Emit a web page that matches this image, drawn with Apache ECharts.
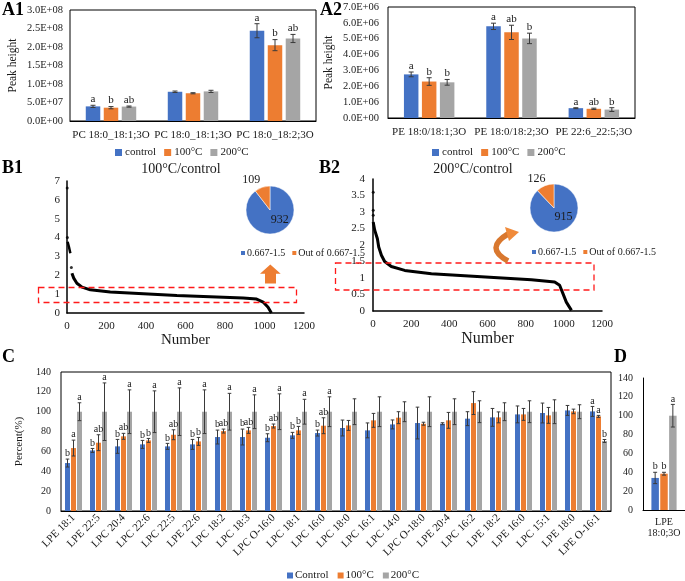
<!DOCTYPE html>
<html><head><meta charset="utf-8">
<script src="https://cdn.jsdelivr.net/npm/echarts@6/dist/echarts.min.js"></script>
<style>html,body{margin:0;padding:0;background:#fff}#c{width:685px;height:581px}</style>
</head><body><div id="c"></div>
<script>
// ---------- DATA ----------
const A1_CATEGORIES = ['PC 18:0_18:1;3O', 'PC 18:0_18:1;3O', 'PC 18:0_18:2;3O'];
const A1_CONTROL = [3.95e7, 7.9e7, 2.44e8];
const A1_CONTROL_ERR = [3e6, 2e6, 1.9e7];
const A1_100 = [3.6e7, 7.5e7, 2.05e8];
const A1_100_ERR = [3e6, 1.5e6, 1.5e7];
const A1_200 = [3.9e7, 8.0e7, 2.23e8];
const A1_200_ERR = [1.5e6, 3e6, 1.1e7];
const A1_LET_CONTROL = ['a', '', 'a'];
const A1_LET_100 = ['b', '', 'b'];
const A1_LET_200 = ['ab', '', 'ab'];

const A2_CATEGORIES = ['PE 18:0/18:1;3O', 'PE 18:0/18:2;3O', 'PE 22:6_22:5;3O'];
const A2_CONTROL = [2.75e6, 5.78e6, 0.62e6];
const A2_CONTROL_ERR = [0.15e6, 0.2e6, 0.03e6];
const A2_100 = [2.3e6, 5.4e6, 0.58e6];
const A2_100_ERR = [0.24e6, 0.45e6, 0.04e6];
const A2_200 = [2.25e6, 5.02e6, 0.53e6];
const A2_200_ERR = [0.18e6, 0.33e6, 0.12e6];
const A2_LET_CONTROL = ['a', 'a', 'a'];
const A2_LET_100 = ['b', 'ab', 'ab'];
const A2_LET_200 = ['b', 'b', 'b'];

const B1_DOTS = [[1, 6.63], [2, 4.0], [22, 2.41]];
const B1_HEAD = [[3, 3.78], [10, 3.5], [17, 3.17]];
const B1_CURVE = [[25, 2.11], [34, 1.85], [50, 1.58], [76, 1.37], [118, 1.23], [219, 1.11], [387, 1.02],
  [556, 0.93], [724, 0.86], [892, 0.79], [960, 0.74], [993, 0.58], [1018, 0.30], [1035, 0]];
const B1_PIE = [932, 109];

const B2_DOTS = [[1, 3.6], [1, 3.05], [1, 2.9]];
const B2_CURVE = [[1, 2.7], [9, 2.45], [23, 2.19], [30, 1.94], [44, 1.69], [61, 1.5], [96, 1.35], [166, 1.23],
  [306, 1.13], [480, 1.07], [655, 1.01], [830, 0.95], [952, 0.88], [978, 0.78], [996, 0.52], [1013, 0.27], [1040, 0.02]];
const B2_PIE = [915, 126];
const PIE_NAMES = ['0.667-1.5', 'Out of 0.667-1.5'];

const C_CATEGORIES = ['LPE 18:1', 'LPE 22:5', 'LPC 20:4', 'LPC 22:6', 'LPC 22:5', 'LPE 22:6', 'LPC 18:2', 'LPC 18:3',
  'LPC O-16:0', 'LPC 18:1', 'LPC 16:0', 'LPC 18:0', 'LPC 16:1', 'LPC 14:0', 'LPC O-18:0', 'LPE 20:4', 'LPC 16:2',
  'LPE 18:2', 'LPE 16:0', 'LPC 15:1', 'LPE 18:0', 'LPE O-16:1'];
const C_CONTROL = [48.3, 61, 65.1, 67.1, 65.1, 67.1, 74.5, 74.5, 73.8, 76.2, 78.5, 83.6, 81.2, 87.2, 88.6, 87.9, 93, 94.3, 97.3, 98.7, 101.3, 100.3];
const C_CONTROL_ERR = [4, 2, 7, 4, 3, 5, 7, 8, 4, 3, 3, 8, 7.5, 4.5, 16, 1, 7, 9, 8.5, 10, 5, 5];
const C_100 = [63.4, 68.8, 75.2, 71.1, 76.8, 70.1, 80.5, 81.2, 85.6, 81.2, 85.9, 86.2, 91.3, 94, 87.9, 91.3, 108.7, 94.3, 97.3, 96.3, 100.3, 95.3];
const C_100_ERR = [8, 8, 3, 2, 5, 4, 2, 3, 2, 4, 8, 5, 7, 6, 1.5, 8, 11.5, 5.5, 6, 8, 2.3, 1];
const C_200 = [100, 100, 100, 100, 100, 100, 100, 100, 100, 100, 100, 100, 100, 100, 100, 100, 100, 100, 100, 100, 100, 70.5];
const C_200_ERR = [9, 29, 22, 21, 24, 22, 18.5, 17, 18, 12.5, 15, 13, 15, 10, 15, 13, 11, 9, 11, 12, 7, 1.5];
const C_LET_CONTROL = ['b', 'b', 'b', 'b', 'b', 'b', 'b', 'b', 'b', 'b', 'b', '', '', '', '', '', '', '', '', '', '', 'a'];
const C_LET_100 = ['a', 'ab', 'ab', 'b', 'ab', 'b', 'ab', 'ab', 'ab', 'b', 'ab', '', '', '', '', '', '', '', '', '', '', 'a'];
const C_LET_200 = ['a', 'a', 'a', 'a', 'a', 'a', 'a', 'a', 'a', 'a', 'a', '', '', '', '', '', '', '', '', '', '', 'b'];

const D_CATEGORIES = ['LPE\n18:0;3O'];
const D_CONTROL = [34], D_CONTROL_ERR = [6];
const D_100 = [38.5], D_100_ERR = [1.5];
const D_200 = [100], D_200_ERR = [12];
const D_LET_CONTROL = ['b'], D_LET_100 = ['b'], D_LET_200 = ['a'];

// ---------- STYLE ----------
const COLORS = ['#4472C4', '#ED7D31', '#A5A5A5'];
const ERR_COLOR = '#3a3a3a';
const SERIF = '"Liberation Serif", "Times New Roman", serif';
const TXT = '#1a1a1a';

function sci(v) {
  if (v === 0) return '0.0E+00';
  let e = Math.floor(Math.log10(v) + 1e-9);
  let m = v / Math.pow(10, e);
  let ms = m.toFixed(1);
  if (ms === '10.0') { e += 1; ms = '1.0'; }
  return ms + 'E+' + (e < 10 ? '0' + e : '' + e);
}
const plain = v => String(v);

function errSeries(idx, vals, errs, letters, offset, cap, fs) {
  return {
    type: 'custom', xAxisIndex: idx, yAxisIndex: idx, z: 5, silent: true,
    data: vals.map((v, i) => [i, v, errs[i]]),
    renderItem: function (params, api) {
      const i = api.value(0), v = api.value(1), e = api.value(2);
      const x = api.coord([i, v])[0] + offset;
      const yt = api.coord([i, v + e])[1];
      const yb = api.coord([i, v - e])[1];
      const st = { stroke: ERR_COLOR, lineWidth: 1 };
      const ch = [
        { type: 'line', shape: { x1: x, y1: yt, x2: x, y2: yb }, style: st },
        { type: 'line', shape: { x1: x - cap, y1: yt, x2: x + cap, y2: yt }, style: st },
        { type: 'line', shape: { x1: x - cap, y1: yb, x2: x + cap, y2: yb }, style: st }
      ];
      const L = letters[params.dataIndex];
      if (L) ch.push({ type: 'text', style: { text: L, x: x, y: yt - 0.5, align: 'center', verticalAlign: 'bottom',
        fontSize: fs, fontFamily: SERIF, fill: TXT } });
      return { type: 'group', children: ch };
    }
  };
}
function bar(idx, name, vals, color, w, gap) {
  return { type: 'bar', name: name, xAxisIndex: idx, yAxisIndex: idx, data: vals, barWidth: w, barGap: gap,
    itemStyle: { color: color }, silent: true };
}

const chart = echarts.init(document.getElementById('c'), null, { renderer: 'canvas' });

const catAxisBase = (idx, data, extra) => Object.assign({
  type: 'category', gridIndex: idx, data: data,
  axisLine: { show: true, lineStyle: { color: '#000', width: 1 } },
  axisTick: { show: false },
  axisLabel: { color: TXT, fontFamily: SERIF, fontSize: 11, interval: 0 }
}, extra || {});

const option = {
  animation: false,
  textStyle: { fontFamily: SERIF },
  grid: [
    { left: 70, top: 10, width: 246, height: 111, show: true, borderColor: '#000', borderWidth: 1 },
    { left: 388, top: 7, width: 247, height: 111, show: true, borderColor: '#000', borderWidth: 1 },
    { left: 67, top: 181, width: 237, height: 132 },
    { left: 373, top: 179, width: 229, height: 132 },
    { left: 61, top: 372, width: 550, height: 139, show: true, borderColor: '#000', borderWidth: 1 },
    { left: 643, top: 378, width: 42, height: 132 }
  ],
  xAxis: [
    catAxisBase(0, A1_CATEGORIES, { axisLabel: { color: TXT, fontFamily: SERIF, fontSize: 11, interval: 0, margin: 9 } }),
    catAxisBase(1, A2_CATEGORIES, { axisLabel: { color: TXT, fontFamily: SERIF, fontSize: 11, interval: 0, margin: 9 } }),
    { type: 'value', gridIndex: 2, min: 0, max: 1200, interval: 200, splitLine: { show: false },
      axisLine: { show: true, lineStyle: { color: '#000', width: 1.5 } }, axisTick: { show: false },
      axisLabel: { color: TXT, fontFamily: SERIF, fontSize: 11, margin: 8, formatter: plain },
      name: 'Number', nameLocation: 'middle', nameGap: 20, nameTextStyle: { color: TXT, fontFamily: SERIF, fontSize: 15 } },
    { type: 'value', gridIndex: 3, min: 0, max: 1200, interval: 200, splitLine: { show: false },
      axisLine: { show: true, lineStyle: { color: '#000', width: 1.5 } }, axisTick: { show: false },
      axisLabel: { color: TXT, fontFamily: SERIF, fontSize: 11, margin: 8, formatter: plain },
      name: 'Number', nameLocation: 'middle', nameGap: 18, nameTextStyle: { color: TXT, fontFamily: SERIF, fontSize: 16 } },
    catAxisBase(4, C_CATEGORIES, { axisLabel: { color: TXT, fontFamily: SERIF, fontSize: 11, interval: 0, rotate: 45, margin: 5 } }),
    catAxisBase(5, D_CATEGORIES, { axisLabel: { color: TXT, fontFamily: SERIF, fontSize: 10, interval: 0, margin: 7, lineHeight: 11 } })
  ],
  yAxis: [
    { type: 'value', gridIndex: 0, min: 0, max: 3e8, interval: 5e7, splitLine: { show: false }, axisLine: { show: false }, axisTick: { show: false },
      axisLabel: { color: TXT, fontFamily: SERIF, fontSize: 10.5, margin: 7, formatter: sci },
      name: 'Peak height', nameLocation: 'middle', nameGap: 51, nameTextStyle: { color: TXT, fontFamily: SERIF, fontSize: 11.5 } },
    { type: 'value', gridIndex: 1, min: 0, max: 7e6, interval: 1e6, splitLine: { show: false }, axisLine: { show: false }, axisTick: { show: false },
      axisLabel: { color: TXT, fontFamily: SERIF, fontSize: 10.5, margin: 9, formatter: sci },
      name: 'Peak height', nameLocation: 'middle', nameGap: 53, nameTextStyle: { color: TXT, fontFamily: SERIF, fontSize: 11.5 } },
    { type: 'value', gridIndex: 2, min: 0, max: 7, interval: 1, splitLine: { show: false },
      axisLine: { show: true, lineStyle: { color: '#000', width: 1.5 } }, axisTick: { show: false },
      axisLabel: { color: TXT, fontFamily: SERIF, fontSize: 11, margin: 7 } },
    { type: 'value', gridIndex: 3, min: 0, max: 4, interval: 0.5, splitLine: { show: false },
      axisLine: { show: true, lineStyle: { color: '#000', width: 1.5 } }, axisTick: { show: false },
      axisLabel: { color: TXT, fontFamily: SERIF, fontSize: 11, margin: 8 } },
    { type: 'value', gridIndex: 4, min: 0, max: 140, interval: 20, splitLine: { show: false }, axisLine: { show: false }, axisTick: { show: false },
      axisLabel: { color: TXT, fontFamily: SERIF, fontSize: 10, margin: 10 },
      name: 'Percent(%)', nameLocation: 'middle', nameGap: 28, nameTextStyle: { color: TXT, fontFamily: SERIF, fontSize: 11 } },
    { type: 'value', gridIndex: 5, min: 0, max: 140, interval: 20, splitLine: { show: false },
      axisLine: { show: true, lineStyle: { color: '#000', width: 1 } }, axisTick: { show: false },
      axisLabel: { color: TXT, fontFamily: SERIF, fontSize: 10, margin: 10 } }
  ],
  legend: [
    { data: ['control', '100°C', '200°C'], left: 110, top: 142, itemWidth: 7, itemHeight: 7, itemGap: 8, icon: 'rect', selectedMode: false,
      textStyle: { color: TXT, fontFamily: SERIF, fontSize: 11, padding: [0, 0, 0, -2] } },
    { data: ['control', '100°C', '200°C'], left: 427, top: 142, itemWidth: 7, itemHeight: 7, itemGap: 8, icon: 'rect', selectedMode: false,
      textStyle: { color: TXT, fontFamily: SERIF, fontSize: 11, padding: [0, 0, 0, -2] } },
    { data: PIE_NAMES, left: 234, top: 243, itemWidth: 6, itemHeight: 6, itemGap: 5, icon: 'rect', selectedMode: false,
      textStyle: { color: TXT, fontFamily: SERIF, fontSize: 10, padding: [0, 0, 0, -4] } },
    { data: PIE_NAMES, left: 525, top: 242, itemWidth: 6, itemHeight: 6, itemGap: 5, icon: 'rect', selectedMode: false,
      textStyle: { color: TXT, fontFamily: SERIF, fontSize: 10, padding: [0, 0, 0, -4] } },
    { data: ['Control', '100°C', '200°C'], left: 282, top: 565, itemWidth: 6, itemHeight: 6, itemGap: 9, icon: 'rect', selectedMode: false,
      textStyle: { color: TXT, fontFamily: SERIF, fontSize: 11, padding: [0, 0, 0, -3] } }
  ],
  series: [
    bar(0, 'control', A1_CONTROL, COLORS[0], 14.5, '24%'),
    bar(0, '100°C', A1_100, COLORS[1], 14.5, '24%'),
    bar(0, '200°C', A1_200, COLORS[2], 14.5, '24%'),
    errSeries(0, A1_CONTROL, A1_CONTROL_ERR, A1_LET_CONTROL, -18, 2.5, 11),
    errSeries(0, A1_100, A1_100_ERR, A1_LET_100, 0, 2.5, 11),
    errSeries(0, A1_200, A1_200_ERR, A1_LET_200, 18, 2.5, 11),

    bar(1, 'control', A2_CONTROL, COLORS[0], 14.5, '24%'),
    bar(1, '100°C', A2_100, COLORS[1], 14.5, '24%'),
    bar(1, '200°C', A2_200, COLORS[2], 14.5, '24%'),
    errSeries(1, A2_CONTROL, A2_CONTROL_ERR, A2_LET_CONTROL, -18, 2.5, 11),
    errSeries(1, A2_100, A2_100_ERR, A2_LET_100, 0, 2.5, 11),
    errSeries(1, A2_200, A2_200_ERR, A2_LET_200, 18, 2.5, 11),

    { type: 'line', xAxisIndex: 2, yAxisIndex: 2, data: B1_CURVE, symbol: 'none', lineStyle: { color: '#000', width: 3 }, silent: true, z: 3 },
    { type: 'line', xAxisIndex: 2, yAxisIndex: 2, data: B1_HEAD, symbol: 'none', lineStyle: { color: '#000', width: 2.5 }, silent: true, z: 3 },
    { type: 'scatter', xAxisIndex: 2, yAxisIndex: 2, data: B1_DOTS, symbolSize: 3, itemStyle: { color: '#000' }, silent: true, z: 3 },
    { type: 'line', xAxisIndex: 3, yAxisIndex: 3, data: B2_CURVE, symbol: 'none', lineStyle: { color: '#000', width: 3 }, silent: true, z: 3 },
    { type: 'scatter', xAxisIndex: 3, yAxisIndex: 3, data: B2_DOTS, symbolSize: 3, itemStyle: { color: '#000' }, silent: true, z: 3 },

    { type: 'pie', center: [270, 210], radius: 24, startAngle: 90, clockwise: true, silent: true,
      data: [
        { name: PIE_NAMES[0], value: B1_PIE[0], itemStyle: { color: COLORS[0] }, label: { position: 'inside', offset: [5, -4] } },
        { name: PIE_NAMES[1], value: B1_PIE[1], itemStyle: { color: COLORS[1] }, label: { position: 'inside', offset: [-14, -16] } }
      ],
      itemStyle: { borderColor: '#fff', borderWidth: 0.5 },
      label: { show: true, formatter: '{c}', color: TXT, fontFamily: SERIF, fontSize: 12 }, labelLine: { show: false } },
    { type: 'pie', center: [554, 208], radius: 24, startAngle: 90, clockwise: true, silent: true,
      data: [
        { name: PIE_NAMES[0], value: B2_PIE[0], itemStyle: { color: COLORS[0] }, label: { position: 'inside', offset: [4, -5] } },
        { name: PIE_NAMES[1], value: B2_PIE[1], itemStyle: { color: COLORS[1] }, label: { position: 'inside', offset: [-12, -15] } }
      ],
      itemStyle: { borderColor: '#fff', borderWidth: 0.5 },
      label: { show: true, formatter: '{c}', color: TXT, fontFamily: SERIF, fontSize: 12 }, labelLine: { show: false } },

    bar(4, 'Control', C_CONTROL, COLORS[0], 5, '20%'),
    bar(4, '100°C', C_100, COLORS[1], 5, '20%'),
    bar(4, '200°C', C_200, COLORS[2], 5, '20%'),
    errSeries(4, C_CONTROL, C_CONTROL_ERR, C_LET_CONTROL, -6, 1.8, 10),
    errSeries(4, C_100, C_100_ERR, C_LET_100, 0, 1.8, 10),
    errSeries(4, C_200, C_200_ERR, C_LET_200, 6, 1.8, 10),

    bar(5, 'Control', D_CONTROL, COLORS[0], 7.5, '18%'),
    bar(5, '100°C', D_100, COLORS[1], 7.5, '18%'),
    bar(5, '200°C', D_200, COLORS[2], 7.5, '18%'),
    errSeries(5, D_CONTROL, D_CONTROL_ERR, D_LET_CONTROL, -8.85, 2, 10),
    errSeries(5, D_100, D_100_ERR, D_LET_100, 0, 2, 10),
    errSeries(5, D_200, D_200_ERR, D_LET_200, 8.85, 2, 10)
  ],
  graphic: [
    { type: 'text', x: 2, y: 1, style: { text: 'A1', fontFamily: SERIF, fontSize: 18, fontWeight: 'bold', fill: '#000' } },
    { type: 'text', x: 320, y: 1, style: { text: 'A2', fontFamily: SERIF, fontSize: 18, fontWeight: 'bold', fill: '#000' } },
    { type: 'text', x: 2, y: 159, style: { text: 'B1', fontFamily: SERIF, fontSize: 18, fontWeight: 'bold', fill: '#000' } },
    { type: 'text', x: 319, y: 159, style: { text: 'B2', fontFamily: SERIF, fontSize: 18, fontWeight: 'bold', fill: '#000' } },
    { type: 'text', x: 2, y: 348, style: { text: 'C', fontFamily: SERIF, fontSize: 18, fontWeight: 'bold', fill: '#000' } },
    { type: 'text', x: 614, y: 348, style: { text: 'D', fontFamily: SERIF, fontSize: 18, fontWeight: 'bold', fill: '#000' } },
    { type: 'text', x: 181, y: 169, style: { text: '100°C/control', fontFamily: SERIF, fontSize: 14, fill: TXT, align: 'center', verticalAlign: 'middle' } },
    { type: 'text', x: 473, y: 169, style: { text: '200°C/control', fontFamily: SERIF, fontSize: 14, fill: TXT, align: 'center', verticalAlign: 'middle' } },
    { type: 'rect', shape: { x: 38.5, y: 287.5, width: 258, height: 15 }, z: 10,
      style: { fill: 'none', stroke: '#ff1a1a', lineWidth: 1.3, lineDash: [6, 4] } },
    { type: 'rect', shape: { x: 335.5, y: 263, width: 258.5, height: 27 }, z: 10,
      style: { fill: 'none', stroke: '#ff1a1a', lineWidth: 1.3, lineDash: [6, 4] } },
    { type: 'polygon', z: 10, shape: { points: [[270.3, 264.5], [280.7, 273.8], [276, 273.8], [276, 283.5], [265, 283.5], [265, 273.8], [260, 273.8]] },
      style: { fill: '#ED7D31' } },
    { type: 'bezierCurve', z: 10, shape: { x1: 508, y1: 261, cpx1: 484, cpy1: 248, x2: 508, y2: 234 },
      style: { fill: 'none', stroke: '#D9782F', lineWidth: 5.5 } },
    { type: 'polygon', z: 10, shape: { points: [[505, 227], [519, 232], [509, 241]] },
      style: { fill: '#F08A3A' } }
  ]
};
chart.setOption(option);
</script>
</body></html>
